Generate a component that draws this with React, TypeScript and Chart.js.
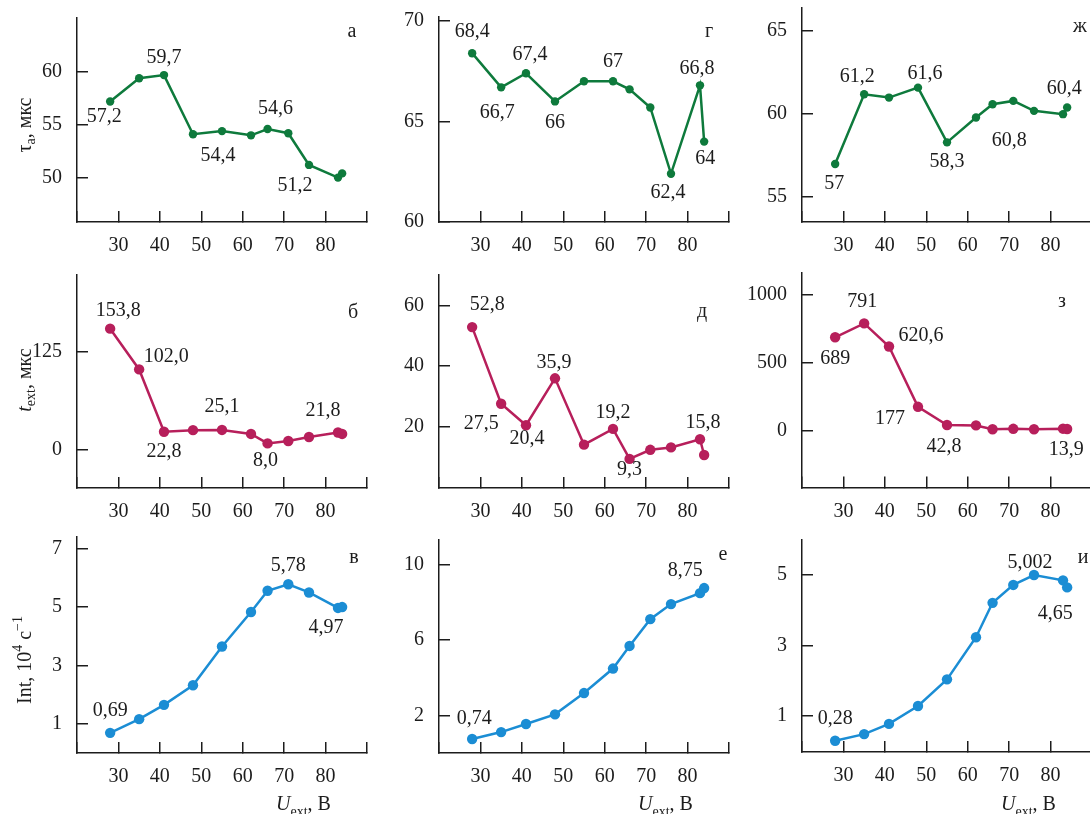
import { useEffect, useRef } from 'react';
import { Chart, registerables } from 'chart.js';

Chart.register(...registerables);

// ---------- data ----------
const voltage = [28, 35, 41, 48, 55, 62, 66, 71, 76, 83, 84];

const tauA_a = [57.2, 59.4, 59.7, 54.1, 54.4, 54.0, 54.6, 54.2, 51.2, 50.0, 50.4];
const tauA_g = [68.4, 66.7, 67.4, 66.0, 67.0, 67.0, 66.6, 65.7, 62.4, 66.8, 64.0];
const tauA_zh = [57.0, 61.2, 61.0, 61.6, 58.3, 59.8, 60.6, 60.8, 60.2, 60.0, 60.4];

const tExt_b = [153.8, 102.0, 22.8, 24.8, 25.1, 20.0, 8.0, 11.0, 16.1, 21.8, 20.0];
const tExt_d = [52.8, 27.5, 20.4, 35.9, 14.0, 19.2, 9.3, 12.3, 13.1, 15.8, 10.6];
const tExt_z = [689, 791, 620.6, 177, 42.8, 40, 12, 15, 12, 16, 13.9];

const int_v = [0.69, 1.16, 1.65, 2.32, 3.65, 4.83, 5.56, 5.78, 5.5, 4.97, 5.0];
const int_e = [0.74, 1.11, 1.54, 2.05, 3.18, 4.48, 5.68, 7.1, 7.9, 8.48, 8.75];
const int_i = [0.28, 0.47, 0.76, 1.27, 2.03, 3.23, 4.21, 4.72, 5.002, 4.85, 4.65];

const xTicks = [20, 30, 40, 50, 60, 70, 80, 90];
const xTickLabels = ['', '30', '40', '50', '60', '70', '80', ''];

const yTicks_a = [50, 55, 60];
const yTicks_g = [60, 65, 70];
const yTicks_zh = [55, 60, 65];
const yTicks_b = [0, 125];
const yTicks_d = [20, 40, 60];
const yTicks_z = [0, 500, 1000];
const yTicks_v = [1, 3, 5, 7];
const yTicks_e = [2, 6, 10];
const yTicks_i = [1, 3, 5];

// ---------- style ----------
const FONT = '"Liberation Serif", "Times New Roman", serif';
const INK = '#1c1c1c';
const GREEN = '#0e7a3c';
const MAGENTA = '#b71f5b';
const BLUE = '#1b8dd4';
const FS = 20;

type Seg = { t: string; k?: 'n' | 'i' | 'sub' | 'sup' };
type Note = { i: number; t: string; dx: number; dy: number };
type Panel = {
  col: number;
  row: number;
  y: number[];
  color: string;
  r: number;
  min: number;
  max: number;
  ticks: number[];
  plotTop: number;
  plotBottom: number;
  letter: string;
  letterAt: [number, number];
  notes: Note[];
  yTitle?: Seg[];
  yTitleY?: number;
  xTitle?: Seg[];
};

const axisX = [77, 439, 802];
const rowTop = [0, 256, 522];
const rowBottom = [262, 530, 814];
const Y_AXIS_W = 77;
const RIGHT_PAD = 8;
const PLOT_W = 290;

const xTitle: Seg[] = [{ t: 'U', k: 'i' }, { t: 'ext', k: 'sub' }, { t: ', В' }];

const panels: Panel[] = [
  {
    col: 0, row: 0, y: tauA_a, color: GREEN, r: 4.2, min: 45.8, max: 65.1, ticks: yTicks_a,
    plotTop: 18, plotBottom: 222, letter: 'а', letterAt: [352, 32],
    notes: [
      { i: 0, t: '57,2', dx: -6, dy: 15 },
      { i: 2, t: '59,7', dx: 0, dy: -17 },
      { i: 4, t: '54,4', dx: -4, dy: 25 },
      { i: 6, t: '54,6', dx: 8, dy: -20 },
      { i: 8, t: '51,2', dx: -14, dy: 21 },
    ],
    yTitle: [{ t: 'τ' }, { t: 'a', k: 'sub' }, { t: ', мкс' }], yTitleY: 125,
  },
  {
    col: 1, row: 0, y: tauA_g, color: GREEN, r: 4.2, min: 60, max: 70.2, ticks: yTicks_g,
    plotTop: 17, plotBottom: 222, letter: 'г', letterAt: [709, 32],
    notes: [
      { i: 0, t: '68,4', dx: 0, dy: -21 },
      { i: 1, t: '66,7', dx: -4, dy: 25 },
      { i: 2, t: '67,4', dx: 4, dy: -19 },
      { i: 3, t: '66', dx: 0, dy: 21 },
      { i: 5, t: '67', dx: 0, dy: -20 },
      { i: 8, t: '62,4', dx: -3, dy: 19 },
      { i: 9, t: '66,8', dx: -3, dy: -17 },
      { i: 10, t: '64', dx: 1, dy: 17 },
    ],
  },
  {
    col: 2, row: 0, y: tauA_zh, color: GREEN, r: 4.2, min: 53.5, max: 66.4, ticks: yTicks_zh,
    plotTop: 8, plotBottom: 222, letter: 'ж', letterAt: [1080, 27],
    notes: [
      { i: 0, t: '57', dx: -1, dy: 20 },
      { i: 1, t: '61,2', dx: -7, dy: -18 },
      { i: 3, t: '61,6', dx: 7, dy: -14 },
      { i: 4, t: '58,3', dx: 0, dy: 19 },
      { i: 7, t: '60,8', dx: -4, dy: 40 },
      { i: 10, t: '60,4', dx: -3, dy: -19 },
    ],
  },
  {
    col: 0, row: 1, y: tExt_b, color: MAGENTA, r: 5.2, min: -48.7, max: 222, ticks: yTicks_b,
    plotTop: 275, plotBottom: 488, letter: 'б', letterAt: [353, 313],
    notes: [
      { i: 0, t: '153,8', dx: 8, dy: -18 },
      { i: 1, t: '102,0', dx: 27, dy: -13 },
      { i: 2, t: '22,8', dx: 0, dy: 20 },
      { i: 4, t: '25,1', dx: 0, dy: -23 },
      { i: 6, t: '8,0', dx: -2, dy: 17 },
      { i: 9, t: '21,8', dx: -15, dy: -22 },
    ],
    yTitle: [{ t: 't', k: 'i' }, { t: 'ext', k: 'sub' }, { t: ', мкс' }], yTitleY: 380,
  },
  {
    col: 1, row: 1, y: tExt_d, color: MAGENTA, r: 5.2, min: -0.3, max: 70, ticks: yTicks_d,
    plotTop: 275, plotBottom: 488, letter: 'д', letterAt: [702, 312],
    notes: [
      { i: 0, t: '52,8', dx: 15, dy: -22 },
      { i: 1, t: '27,5', dx: -20, dy: 20 },
      { i: 2, t: '20,4', dx: 1, dy: 13 },
      { i: 3, t: '35,9', dx: -1, dy: -16 },
      { i: 5, t: '19,2', dx: 0, dy: -16 },
      { i: 6, t: '9,3', dx: 0, dy: 11 },
      { i: 9, t: '15,8', dx: 3, dy: -16 },
    ],
  },
  {
    col: 2, row: 1, y: tExt_z, color: MAGENTA, r: 5.2, min: -417, max: 1162, ticks: yTicks_z,
    plotTop: 273, plotBottom: 487.5, letter: 'з', letterAt: [1062, 302],
    notes: [
      { i: 0, t: '689', dx: 0, dy: 21 },
      { i: 1, t: '791', dx: -2, dy: -22 },
      { i: 2, t: '620,6', dx: 32, dy: -11 },
      { i: 3, t: '177', dx: -28, dy: 12 },
      { i: 4, t: '42,8', dx: -3, dy: 22 },
      { i: 10, t: '13,9', dx: -1, dy: 21 },
    ],
  },
  {
    col: 0, row: 2, y: int_v, color: BLUE, r: 5.2, min: 0, max: 7.4, ticks: yTicks_v,
    plotTop: 537, plotBottom: 753, letter: 'в', letterAt: [354, 558],
    notes: [
      { i: 0, t: '0,69', dx: 0, dy: -22 },
      { i: 7, t: '5,78', dx: 0, dy: -19 },
      { i: 9, t: '4,97', dx: -12, dy: 20 },
    ],
    yTitle: [{ t: 'Int, 10' }, { t: '4', k: 'sup' }, { t: ' с' }, { t: '−1', k: 'sup' }], yTitleY: 660,
    xTitle,
  },
  {
    col: 1, row: 2, y: int_e, color: BLUE, r: 5.2, min: 0, max: 11.3, ticks: yTicks_e,
    plotTop: 540, plotBottom: 753, letter: 'е', letterAt: [723, 555],
    notes: [
      { i: 0, t: '0,74', dx: 2, dy: -20 },
      { i: 10, t: '8,75', dx: -19, dy: -17 },
    ],
    xTitle,
  },
  {
    col: 2, row: 2, y: int_i, color: BLUE, r: 5.2, min: -0.04, max: 6.0, ticks: yTicks_i,
    plotTop: 540, plotBottom: 752, letter: 'и', letterAt: [1083, 558],
    notes: [
      { i: 0, t: '0,28', dx: 0, dy: -22 },
      { i: 8, t: '5,002', dx: -4, dy: -12 },
      { i: 10, t: '4,65', dx: -12, dy: 26 },
    ],
    xTitle,
  },
];

function segFont(k: Seg['k'], size: number) {
  if (k === 'sub' || k === 'sup') return `${Math.round(size * 0.7)}px ${FONT}`;
  if (k === 'i') return `italic ${size}px ${FONT}`;
  return `${size}px ${FONT}`;
}

function drawRich(ctx: CanvasRenderingContext2D, segs: Seg[], x: number, y: number, size: number, align: 'left' | 'center') {
  let total = 0;
  const widths = segs.map((s) => {
    ctx.font = segFont(s.k, size);
    const w = ctx.measureText(s.t).width;
    total += w;
    return w;
  });
  let cx = align === 'center' ? x - total / 2 : x;
  ctx.textAlign = 'left';
  segs.forEach((s, i) => {
    ctx.font = segFont(s.k, size);
    const dy = s.k === 'sub' ? size * 0.28 : s.k === 'sup' ? -size * 0.38 : 0;
    ctx.fillText(s.t, cx, y + dy);
    cx += widths[i];
  });
}

function PanelChart({ p }: { p: Panel }) {
  const ref = useRef<HTMLCanvasElement>(null);
  const left = axisX[p.col] - Y_AXIS_W;
  const top = rowTop[p.row];
  const W = Y_AXIS_W + PLOT_W + RIGHT_PAD;
  const H = rowBottom[p.row] - top;

  useEffect(() => {
    const deco = {
      id: 'deco',
      afterDraw(chart: any) {
        const ctx: CanvasRenderingContext2D = chart.ctx;
        const xs = chart.scales.x;
        const ys = chart.scales.y;
        ctx.save();
        ctx.fillStyle = INK;
        ctx.textBaseline = 'middle';
        ctx.textAlign = 'center';
        ctx.font = `${FS}px ${FONT}`;
        for (const n of p.notes) {
          const px = xs.getPixelForValue(voltage[n.i]);
          const py = ys.getPixelForValue(p.y[n.i]);
          ctx.fillText(n.t, px + n.dx, py + n.dy);
        }
        ctx.fillText(p.letter, p.letterAt[0] - left, p.letterAt[1] - top);
        if (p.xTitle) {
          ctx.textBaseline = 'alphabetic';
          drawRich(ctx, p.xTitle, axisX[p.col] + 199 - left, 810 - top, FS, 'left');
        }
        if (p.yTitle && p.yTitleY !== undefined) {
          ctx.save();
          ctx.textBaseline = 'middle';
          ctx.translate(26 - left, p.yTitleY - top);
          ctx.rotate(-Math.PI / 2);
          drawRich(ctx, p.yTitle, 0, 0, FS, 'center');
          ctx.restore();
        }
        ctx.restore();
      },
    };

    const axisCommon = {
      grid: { drawOnChartArea: false, drawTicks: true, tickLength: -11, color: INK, lineWidth: 1.5 },
      border: { display: true, color: INK, width: 1.5 },
    };

    const chart = new Chart(ref.current!, {
      type: 'line',
      data: {
        datasets: [
          {
            data: voltage.map((x, i) => ({ x, y: p.y[i] })),
            borderColor: p.color,
            backgroundColor: p.color,
            borderWidth: 2.5,
            pointRadius: p.r,
            pointHoverRadius: p.r,
            pointBorderWidth: 0,
            tension: 0,
            clip: false as any,
          },
        ],
      },
      options: {
        responsive: false,
        animation: false,
        events: [],
        layout: { padding: { top: p.plotTop - top, right: RIGHT_PAD, left: 0, bottom: 0 } },
        plugins: { legend: { display: false }, tooltip: { enabled: false } },
        scales: {
          x: {
            type: 'linear',
            position: 'bottom',
            min: 20,
            max: 90,
            afterBuildTicks: (s: any) => {
              s.ticks = xTicks.map((v) => ({ value: v }));
            },
            afterFit: (s: any) => {
              s.height = rowBottom[p.row] - p.plotBottom;
              s.paddingLeft = 0;
              s.paddingRight = 0;
            },
            ticks: {
              autoSkip: false,
              maxRotation: 0,
              padding: 23,
              color: INK,
              font: { family: FONT, size: FS },
              callback: (_v: any, i: number) => xTickLabels[i],
            },
            ...axisCommon,
          },
          y: {
            type: 'linear',
            min: p.min,
            max: p.max,
            afterBuildTicks: (s: any) => {
              s.ticks = p.ticks.map((v) => ({ value: v }));
            },
            afterFit: (s: any) => {
              s.width = Y_AXIS_W;
              s.paddingTop = 0;
              s.paddingBottom = 0;
            },
            ticks: {
              autoSkip: false,
              padding: 26,
              color: INK,
              font: { family: FONT, size: FS },
              callback: (v: any) => String(v),
            },
            ...axisCommon,
          },
        } as any,
      },
      plugins: [deco],
    });
    return () => chart.destroy();
  }, []);

  return (
    <canvas
      ref={ref}
      width={W}
      height={H}
      style={{ position: 'absolute', left, top, width: W, height: H }}
    />
  );
}

export default function App() {
  return (
    <div
      style={{
        position: 'absolute',
        left: 0,
        top: 0,
        width: 1090,
        height: 814,
        overflow: 'hidden',
        background: '#ffffff',
      }}
    >
      {panels.map((p, i) => (
        <PanelChart key={i} p={p} />
      ))}
    </div>
  );
}
